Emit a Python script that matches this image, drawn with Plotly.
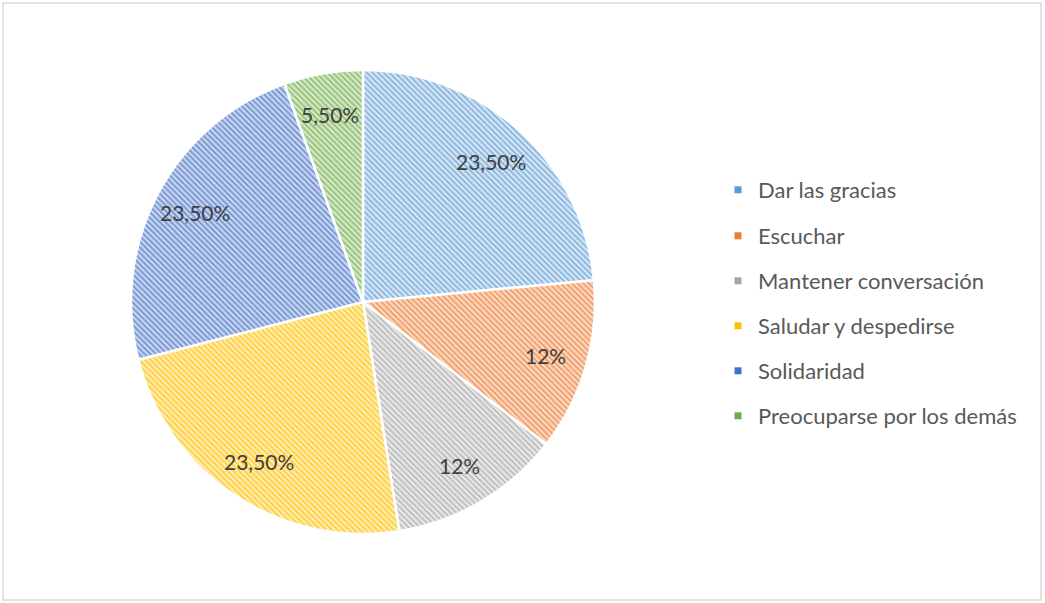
import math
import plotly.graph_objects as go

categories = ["Dar las gracias", "Escuchar", "Mantener conversación",
              "Saludar y despedirse", "Solidaridad", "Preocuparse por los demás"]
values = [23.5, 12, 12, 23.5, 23.5, 5.5]
labels_text = ["23,50%", "12%", "12%", "23,50%", "23,50%", "5,50%"]
colors = ["#5B9BD5", "#ED7D31", "#A5A5A5", "#FFC000", "#4472C4", "#70AD47"]
tints = ["#d6e5f4", "#fad8c2", "#e8e8e8", "#ffecb0", "#c8d5ef", "#d4e8c8"]

W, H = 1045, 603
cx, cy, r = 363, 302, 232
FONT = "Lato, Open Sans, sans-serif"

fig = go.Figure()
fig.add_trace(go.Pie(
    labels=categories, values=values,
    textinfo="none",
    sort=False, direction="clockwise", rotation=0,
    marker=dict(colors=tints, line=dict(color="white", width=2.5),
                pattern=dict(shape="\\", fgcolor=colors, bgcolor=tints, fgopacity=0.7,
                             size=4, solidity=0.4, fillmode="replace")),
    showlegend=False, hoverinfo="label+percent",
    domain=dict(x=[(cx - r) / W, (cx + r) / W], y=[1 - (cy + r) / H, 1 - (cy - r) / H]),
))

# percentage labels placed along each slice's bisector (derived from the values)
total = sum(values)
cum = 0.0
annotations = []
for v, t in zip(values, labels_text):
    mid = (cum + v / 2) / total * 2 * math.pi
    cum += v
    rr = 0.82 * r
    px = cx + rr * math.sin(mid)
    py = cy - rr * math.cos(mid)
    annotations.append(dict(
        x=px / W, y=1 - py / H, xref="paper", yref="paper", text=t, showarrow=False,
        font=dict(family=FONT, size=21, color="#404040"), xanchor="center", yanchor="middle"))

# legend entries, one legend each to mimic the wide spacing
legend_y = [190, 236, 281, 326, 371, 416]
for i, (cat, col) in enumerate(zip(categories, colors)):
    key = "legend" if i == 0 else f"legend{i+1}"
    fig.add_trace(go.Scatter(
        x=[None], y=[None], mode="markers", name=cat,
        marker=dict(symbol="square", size=7, color=col),
        legend=key, hoverinfo="skip",
    ))
    fig.update_layout(**{key: dict(
        x=718 / W, y=1 - legend_y[i] / H, xanchor="left", yanchor="middle",
        bgcolor="rgba(0,0,0,0)", itemwidth=30,
        font=dict(family=FONT, size=22, color="#595959"),
    )})

fig.update_layout(
    width=W, height=H,
    margin=dict(l=0, r=0, t=0, b=0),
    paper_bgcolor="white", plot_bgcolor="white",
    xaxis=dict(visible=False), yaxis=dict(visible=False),
    annotations=annotations,
    shapes=[dict(type="rect", xref="paper", yref="paper",
                 x0=3 / W, x1=1041 / W, y0=1 - 600 / H, y1=1 - 3 / H,
                 line=dict(color="#d9d9d9", width=1.5))],
)

fig.write_html("out.html", config={"displayModeBar": False},
               post_script="document.body.style.margin='0';")
